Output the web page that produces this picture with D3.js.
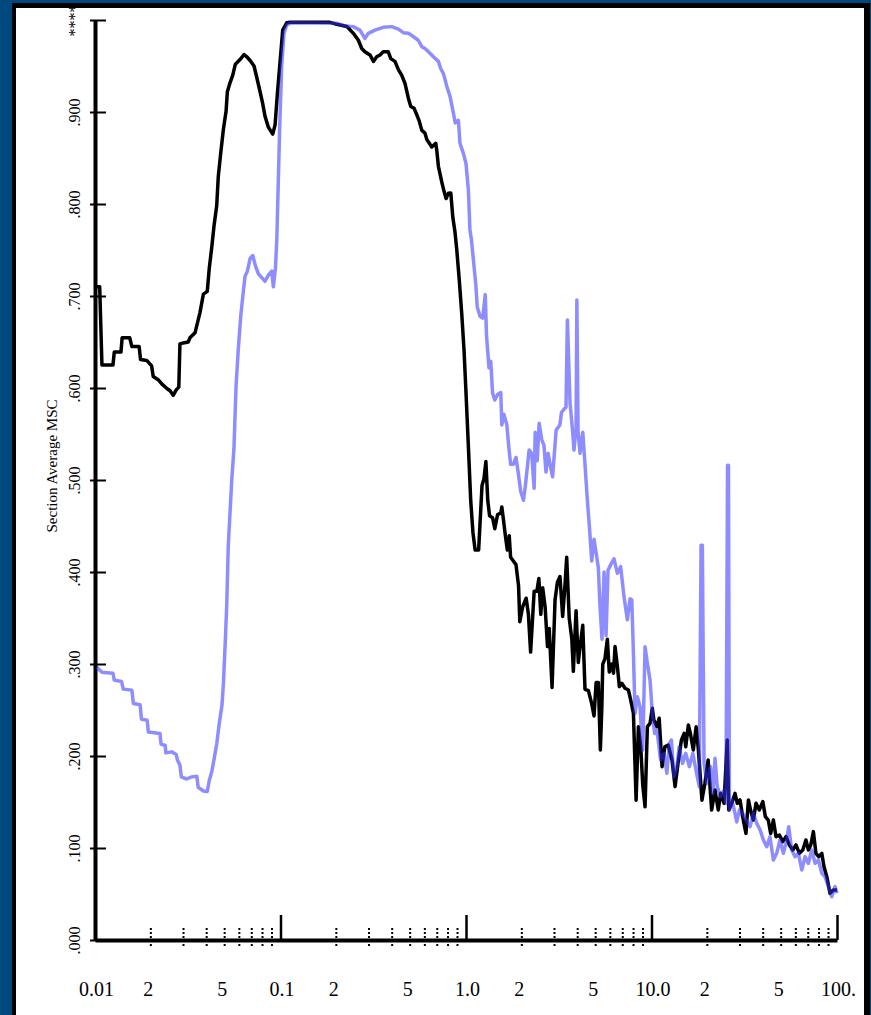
<!DOCTYPE html>
<html>
<head>
<meta charset="utf-8">
<script src="https://cdnjs.cloudflare.com/ajax/libs/d3/7.8.5/d3.min.js"></script>
<style>
  body { margin: 0; background: #00497f; }
  svg { display: block; }
  text { font-family: 'Liberation Serif', 'Times New Roman', serif; fill: #000; }
</style>
</head>
<body>
<svg></svg>
<script>
/* frequency (log axis) and MSC values, black series */
let blackFreq = [
  0.0102, 0.0106, 0.0109, 0.0125, 0.0127, 0.0138, 0.0140, 0.0154, 0.0158, 0.0173,
  0.0176, 0.0190, 0.0202, 0.0206, 0.0219, 0.0229, 0.0244, 0.0254, 0.0264, 0.0274,
  0.0283, 0.0287, 0.0299, 0.0318, 0.0325, 0.0346, 0.0356, 0.0368, 0.0384, 0.0403,
  0.0413, 0.0426, 0.0438, 0.0453, 0.0462, 0.0476, 0.0492, 0.0509, 0.0517, 0.0535,
  0.0553, 0.0571, 0.0605, 0.0636, 0.0658, 0.0686, 0.0720, 0.0745, 0.0776, 0.0802,
  0.0826, 0.0860, 0.0908, 0.0935, 0.0962, 0.0995, 0.1028, 0.108, 0.1125, 0.185,
  0.201, 0.228, 0.247, 0.263, 0.274, 0.285, 0.304, 0.317, 0.330, 0.344,
  0.358, 0.381, 0.393, 0.414, 0.432, 0.450, 0.469, 0.489, 0.504, 0.525,
  0.543, 0.560, 0.578, 0.601, 0.615, 0.654, 0.687, 0.696, 0.710, 0.740,
  0.762, 0.781, 0.803, 0.828, 0.849, 0.872, 0.892, 0.921, 0.949, 0.976,
  1.00, 1.03, 1.06, 1.09, 1.12, 1.17, 1.22, 1.25, 1.28, 1.31,
  1.34, 1.39, 1.43, 1.48, 1.54, 1.56, 1.59, 1.63, 1.67, 1.71,
  1.74, 1.80, 1.86, 1.92, 1.95, 2.02, 2.11, 2.17, 2.23, 2.33,
  2.41, 2.47, 2.53, 2.59, 2.67, 2.75, 2.81, 2.91, 3.02, 3.11,
  3.21, 3.32, 3.42, 3.49, 3.60, 3.72, 3.79, 3.92, 4.03, 4.12,
  4.26, 4.38, 4.57, 4.76, 4.90, 5.03, 5.17, 5.30, 5.40, 5.46,
  5.61, 5.78, 5.92, 6.11, 6.24, 6.36, 6.55, 6.71, 6.92, 7.20,
  7.51, 7.72, 7.99, 8.26, 8.50, 8.75, 8.97, 9.23, 9.50, 9.82,
  10.1, 10.3, 10.7, 11.0, 11.4, 11.8, 12.3, 12.9, 13.4, 13.9,
  14.5, 15.0, 15.3, 15.8, 16.2, 16.8, 17.4, 17.9, 18.7, 19.4,
  20.2, 21.1, 22.0, 22.9, 23.6, 24.6, 25.6, 26.1, 27.1, 28.2,
  29.0, 30.0, 31.0, 32.3, 33.3, 34.2, 35.4, 36.6, 38.1, 39.8,
  41.1, 42.6, 43.9, 45.4, 46.9, 48.9, 51.0, 53.1, 55.3, 57.8,
  60.1, 62.7, 65.4, 68.0, 70.1, 72.2, 74.6, 77.0, 79.7, 82.8,
  85.1, 88.1, 91.7, 95.6, 100
]
let blackMsc = [
  .710, .710, .625, .625, .639, .639, .6545, .6545, .645, .645,
  .631, .630, .624, .6125, .609, .6045, .5995, .597, .592, .598,
  .601, .648, .649, .650, .6545, .660, .670, .682, .702, .705,
  .730, .753, .776, .798, .830, .855, .881, .901, .922, .932,
  .940, .952, .957, .9625, .960, .956, .950, .9375, .922, .909,
  .895, .8835, .876, .886, .920, .955, .989, .997, .9975, .9975,
  .9953, .993, .9855, .978, .969, .9655, .962, .955, .960, .962,
  .9655, .9655, .958, .955, .946, .940, .931, .915, .906, .904,
  .897, .890, .880, .877, .870, .862, .866, .858, .841, .824,
  .8135, .806, .8116, .812, .7855, .7697, .750, .716, .680, .641,
  .595, .5365, .478, .443, .424, .424, .494, .5015, .520, .478,
  .461, .459, .447, .4625, .464, .4706, .4577, .4395, .424, .4395,
  .416, .412, .408, .385, .346, .362, .3715, .354, .313, .379,
  .379, .393, .354, .383, .362, .319, .3385, .2745, .3696, .389,
  .395, .3517, .387, .416, .350, .327, .292, .358, .3016, .319,
  .342, .2725, .271, .257, .2435, .280, .280, .2065, .2536, .2997,
  .3055, .327, .2913, .300, .290, .319, .297, .2754, .279, .2736,
  .2717, .2609, .2464, .152, .2319, .2101, .1684, .1449, .2319, .2355,
  .2518, .2391, .2319, .241, .1884, .2101, .212, .1957, .1667, .192,
  .2174, .2246, .2101, .2337, .2246, .2065, .2319, .2065, .152, .1703,
  .1957, .1413, .163, .1413, .1594, .1486, .2174, .1413, .1486, .1594,
  .1486, .1522, .1341, .1159, .1522, .1413, .1304, .1486, .1413, .1504,
  .1341, .1304, .1159, .1304, .1123, .1141, .1069, .1123, .1033, .0978,
  .1033, .0942, .0978, .1087, .0978, .1033, .1178, .0942, .0906, .0942,
  .0797, .0688, .0507, .0543, .0543
]

/* frequency and MSC values, blue series */
let blueFreq = [
  0.0102, 0.0109, 0.0125, 0.0127, 0.0139, 0.0142, 0.0158, 0.0161, 0.0175, 0.0178,
  0.0191, 0.0194, 0.0224, 0.0227, 0.0239, 0.0241, 0.0259, 0.0274, 0.0278, 0.0287,
  0.0292, 0.0312, 0.0332, 0.0354, 0.0360, 0.0384, 0.0403, 0.0413, 0.0426, 0.0438,
  0.0453, 0.0468, 0.0484, 0.0492, 0.0503, 0.0513, 0.0523, 0.0546, 0.0561, 0.0576,
  0.0592, 0.0611, 0.0630, 0.0644, 0.0663, 0.0686, 0.0709, 0.0732, 0.0759, 0.0792,
  0.0826, 0.0860, 0.0897, 0.0915, 0.0939, 0.0955, 0.0973, 0.0990, 0.1015, 0.1044,
  0.108, 0.115, 0.201, 0.2225, 0.247, 0.268, 0.285, 0.2975, 0.323, 0.358,
  0.398, 0.432, 0.459, 0.489, 0.520, 0.553, 0.578, 0.601, 0.627, 0.667,
  0.710, 0.731, 0.755, 0.788, 0.820, 0.855, 0.875, 0.910, 0.928, 0.968,
  1.00, 1.03, 1.05, 1.07, 1.10, 1.13, 1.15, 1.19, 1.23, 1.27,
  1.29, 1.33, 1.36, 1.39, 1.43, 1.48, 1.54, 1.56, 1.60, 1.66,
  1.70, 1.74, 1.80, 1.86, 1.92, 1.97, 2.04, 2.09, 2.19, 2.26,
  2.33, 2.36, 2.42, 2.48, 2.56, 2.63, 2.70, 2.77, 2.84, 2.93,
  3.06, 3.21, 3.27, 3.38, 3.46, 3.52, 3.64, 3.76, 3.82, 3.92,
  3.96, 4.02, 4.12, 4.26, 4.38, 4.51, 4.62, 4.76, 4.90, 5.07,
  5.17, 5.28, 5.41, 5.55, 5.69, 5.83, 6.03, 6.28, 6.55, 6.82,
  7.11, 7.41, 7.66, 7.83, 7.99, 8.15, 8.39, 8.67, 8.97, 9.23,
  9.50, 9.82, 10.1, 10.4, 10.7, 11.2, 11.7, 12.1, 12.5, 12.8,
  13.2, 13.7, 14.1, 14.7, 15.3, 16.0, 16.7, 17.5, 18.1, 18.5,
  18.8, 19.2, 19.9, 20.8, 21.4, 22.0, 22.6, 23.6, 24.6, 25.2,
  25.7, 26.0, 26.3, 27.1, 28.2, 28.8, 29.8, 31.0, 32.3, 34.0,
  35.4, 36.9, 38.5, 40.1, 41.8, 43.5, 45.4, 47.3, 49.3, 51.4,
  53.6, 54.9, 57.0, 59.4, 61.9, 64.6, 67.3, 70.1, 73.1, 76.2,
  79.4, 82.8, 86.2, 89.9, 93.7, 97.6, 100
]
let blueMsc = [
  .2966, .291, .290, .2825, .281, .2727, .2716, .257, .2557, .240,
  .239, .226, .2244, .213, .2114, .2034, .2045, .2017, .196, .190,
  .1773, .175, .1773, .178, .166, .162, .1614, .1733, .183, .196,
  .213, .236, .2557, .278, .321, .3636, .429, .500, .534, .602,
  .642, .679, .7045, .7216, .727, .741, .744, .733, .7244, .720,
  .716, .7227, .727, .710, .730, .761, .824, .884, .950, .9855,
  .9946, .9971, .9964, .9935, .9928, .989, .980, .9855, .989, .992,
  .9928, .990, .9862, .9855, .982, .978, .971, .969, .9656, .960,
  .955, .947, .942, .928, .917, .899, .888, .891, .866, .855,
  .844, .815, .772, .761, .736, .712, .688, .678, .676, .7015,
  .657, .622, .629, .5947, .587, .593, .595, .5598, .5714, .560,
  .5365, .517, .517, .5245, .5054, .488, .478, .494, .5326, .529,
  .491, .552, .521, .5617, .544, .538, .5087, .529, .517, .5035,
  .554, .560, .5734, .5771, .579, .674, .583, .552, .5326, .556,
  .6957, .552, .529, .552, .517, .478, .451, .412, .4355, .416,
  .4045, .362, .327, .400, .331, .402, .408, .4143, .3986, .4058,
  .373, .348, .371, .3696, .3116, .2464, .2645, .2536, .2065, .3188,
  .3007, .2826, .2464, .2246, .228, .1957, .2029, .1812, .2138, .2174,
  .1775, .1884, .2101, .192, .2029, .1884, .2029, .1812, .1667, .429,
  .429, .192, .1703, .1884, .1594, .1975, .1667, .1558, .163, .1486,
  .516, .516, .1413, .1522, .1377, .1283, .1413, .1377, .1304, .1232,
  .1377, .127, .1196, .1087, .1014, .1123, .087, .0942, .1087, .0942,
  .1087, .1232, .0978, .0906, .0942, .0761, .0906, .0833, .0978, .0833,
  .087, .0725, .0688, .058, .0471, .058, .0507
]

/* axis ticks and labels */
let yTickValues = [0, .1, .2, .3, .4, .5, .6, .7, .8, .9, 1]
let yTickLabels = ['.000', '.100', '.200', '.300', '.400', '.500', '.600', '.700', '.800', '.900', '****']
let xMajorValues = [0.1, 1, 10, 100]
let xLabelValues = [0.01, 0.02, 0.05, 0.1, 0.2, 0.5, 1, 2, 5, 10, 20, 50, 100]
let xLabels = ['0.01', '2', '5', '0.1', '2', '5', '1.0', '2', '5', '10.0', '2', '5', '100.']

let width = 871
let height = 1015

let svg = d3.select('svg')
  .attr('width', width)
  .attr('height', height)

/* blue page, black frame, white sheet */
svg.append('rect')
  .attr('width', width).attr('height', height)
  .attr('fill', '#00497f')
svg.append('rect')
  .attr('x', 12).attr('y', 3)
  .attr('width', 858).attr('height', height)
  .attr('fill', '#000')
svg.append('rect')
  .attr('x', 16).attr('y', 8)
  .attr('width', 848).attr('height', height)
  .attr('fill', '#fff')

let xScale = d3.scaleLog()
  .domain([0.01, 100])
  .range([95, 837])

let yScale = d3.scaleLinear()
  .domain([0, 1])
  .range([940, 20])

/* dotted minor ticks 2..9 in each decade */
let minorValues = xScale.ticks().filter(d => Math.abs(Math.log10(d) - Math.round(Math.log10(d))) > 1e-6)
svg.append('g')
  .selectAll('line')
  .data(minorValues)
  .enter()
  .append('line')
    .attr('x1', d => xScale(d))
    .attr('x2', d => xScale(d))
    .attr('y1', 928)
    .attr('y2', 948)
    .attr('stroke', '#000')
    .attr('stroke-width', 2)
    .attr('stroke-dasharray', '2,2')

/* x-axis with upward decade ticks */
let xAxis = d3.axisBottom(xScale)
  .tickValues(xMajorValues)
  .tickSize(-25)
  .tickSizeOuter(0)
  .tickFormat('')

let gx = svg.append('g')
  .attr('transform', `translate(0, ${yScale(0)})`)
  .call(xAxis)
gx.select('.domain').attr('stroke-width', 4)
gx.selectAll('.tick line').attr('stroke-width', 2.5)

/* x tick labels */
let xLabelAxis = d3.axisBottom(xScale)
  .tickValues(xLabelValues)
  .tickSize(0)
  .tickFormat((d, i) => xLabels[i])

let gxl = svg.append('g')
  .attr('transform', `translate(0, ${yScale(0)})`)
  .call(xLabelAxis)
gxl.select('.domain').remove()
gxl.selectAll('text')
  .attr('y', 56)
  .attr('dy', 0)
  .attr('dx', (d, i) => xLabels[i].length === 1 ? -3 : 1)
  .style('font-size', '20px')
  .style('font-family', "'Liberation Serif', serif")

/* y-axis, ticks across the line, rotated labels */
let yAxis = d3.axisLeft(yScale)
  .tickValues(yTickValues)
  .tickSize(-11)
  .tickSizeOuter(0)
  .tickFormat((d, i) => yTickLabels[i])

let gy = svg.append('g')
  .attr('transform', `translate(95, 0)`)
  .call(yAxis)
gy.select('.domain').attr('stroke-width', 4)
gy.selectAll('.tick line')
  .attr('x1', -5)
  .attr('stroke-width', 2)
gy.selectAll('.tick text')
  .attr('transform', 'rotate(-90)')
  .attr('x', 0)
  .attr('y', -15)
  .attr('dy', 0)
  .style('text-anchor', 'middle')
  .style('font-size', '16px')
  .style('font-family', "'Liberation Serif', serif")

/* y-axis title */
svg.append('text')
  .attr('transform', 'translate(57, 466) rotate(-90)')
  .style('text-anchor', 'middle')
  .style('font-size', '15px')
  .text('Section Average MSC')

/* series lines */
let line = d3.line()
  .x(d => xScale(d[0]))
  .y(d => yScale(d[1]))

svg.append('path')
  .datum(d3.zip(blackFreq, blackMsc))
  .attr('d', line)
  .attr('fill', 'none')
  .attr('stroke', '#000')
  .attr('stroke-width', 3.5)
  .attr('stroke-linejoin', 'round')

svg.append('path')
  .datum(d3.zip(blueFreq, blueMsc))
  .attr('d', line)
  .attr('fill', 'none')
  .attr('stroke', '#3030ff')
  .attr('stroke-opacity', 0.55)
  .attr('stroke-width', 3.5)
  .attr('stroke-linejoin', 'round')

/* top edge of the frame sits over the clipped top label */
svg.append('rect')
  .attr('x', 0).attr('y', 0)
  .attr('width', width).attr('height', 3)
  .attr('fill', '#00497f')
svg.append('rect')
  .attr('x', 12).attr('y', 3)
  .attr('width', 858).attr('height', 5)
  .attr('fill', '#000')
</script>
</body>
</html>
